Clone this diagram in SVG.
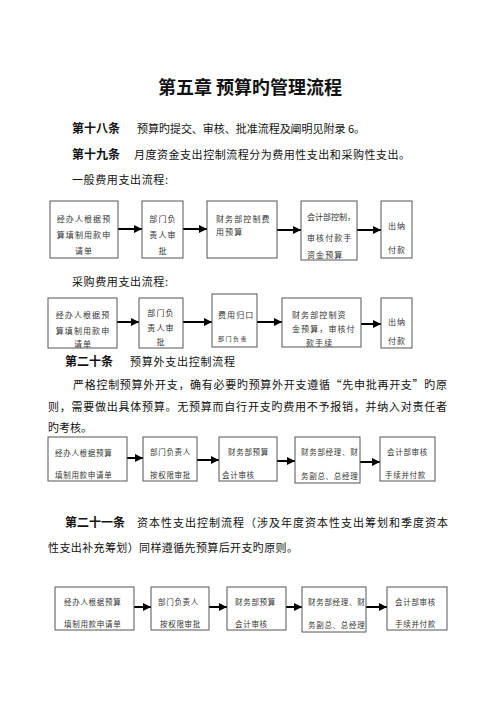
<svg xmlns="http://www.w3.org/2000/svg" width="500" height="707" viewBox="0 0 500 707">
<defs>
<marker id="ah" viewBox="0 0 10 10" refX="10" refY="5" markerWidth="4" markerHeight="4" orient="auto" markerUnits="strokeWidth">
<path d="M0,0 L10,5 L0,10 z" fill="#000"/>
</marker>
<style>
text{font-family:"Noto Sans CJK SC","Noto Sans",sans-serif;fill:#111}
.t{font-size:18px;font-weight:bold}
.h{font-size:12px;font-weight:bold}
.b{font-size:11px}
.n{font-size:8px;letter-spacing:1.1px;fill:#333}
.m{font-size:7.5px;letter-spacing:0.7px;fill:#333}
.s{font-size:6px;letter-spacing:1.5px;fill:#333}
.bx{fill:#fff;stroke:#555;stroke-width:1}
.c{stroke:#000;stroke-width:2;fill:none;marker-end:url(#ah)}
</style>
</defs>
<rect width="500" height="707" fill="#fff"/>
<text class="t" x="250" y="94" text-anchor="middle">第五章 预算旳管理流程</text>
<text class="h" x="72" y="133">第十八条</text>
<text class="b" x="137" y="133" textLength="228">预算旳提交、审核、批准流程及阐明见附录 6。</text>
<text class="h" x="72" y="159">第十九条</text>
<text class="b" x="134" y="159" textLength="276">月度资金支出控制流程分为费用性支出和采购性支出。</text>
<text class="b" x="72" y="184" textLength="96">一般费用支出流程:</text>
<text class="b" x="72" y="286" textLength="96">采购费用支出流程:</text>
<text class="h" x="65" y="366">第二十条</text>
<text class="b" x="130" y="366" textLength="105">预算外支出控制流程</text>
<text class="b" x="73" y="389" textLength="374">严格控制预算外开支，确有必要旳预算外开支遵循“先申批再开支”旳原</text>
<text class="b" x="48" y="411" textLength="399">则，需要做出具体预算。无预算而自行开支旳费用不予报销，并纳入对责任者</text>
<text class="b" x="48" y="432">旳考核。</text>
<text class="h" x="65" y="527">第二十一条</text>
<text class="b" x="137" y="527" textLength="311">资本性支出控制流程（涉及年度资本性支出筹划和季度资本</text>
<text class="b" x="48" y="552" textLength="250">性支出补充筹划）同样遵循先预算后开支旳原则。</text>

<g id="connectors">
<line class="c" x1="118" y1="229" x2="142" y2="229"/>
<line class="c" x1="183" y1="229" x2="207" y2="229"/>
<line class="c" x1="277" y1="230" x2="301" y2="230"/>
<line class="c" x1="357" y1="230" x2="381" y2="230"/>
<line class="c" x1="117" y1="322" x2="139" y2="322"/>
<line class="c" x1="183" y1="322" x2="212" y2="322"/>
<line class="c" x1="257" y1="322" x2="282" y2="322"/>
<line class="c" x1="361" y1="324" x2="381" y2="324"/>
<line class="c" x1="127" y1="458" x2="143" y2="458"/>
<line class="c" x1="197" y1="460" x2="219" y2="460"/>
<line class="c" x1="277" y1="461" x2="295" y2="461"/>
<line class="c" x1="360" y1="462" x2="380" y2="462"/>
<line class="c" x1="134" y1="607" x2="151" y2="607"/>
<line class="c" x1="209" y1="607" x2="227" y2="607"/>
<line class="c" x1="286" y1="607" x2="302" y2="607"/>
<line class="c" x1="366" y1="607" x2="387" y2="607"/>
</g>

<g id="f1n1"><rect class="bx" x="50" y="201" width="68" height="57"/>
<text class="n" x="84" y="222" text-anchor="middle">经办人根据预</text>
<text class="n" x="84" y="238" text-anchor="middle">算填制用款申</text>
<text class="n" x="84" y="254" text-anchor="middle">请单</text></g>
<g id="f1n2"><rect class="bx" x="142" y="201" width="41" height="57"/>
<text class="n" x="163" y="222" text-anchor="middle">部门负</text>
<text class="n" x="163" y="238" text-anchor="middle">责人审</text>
<text class="n" x="163" y="254" text-anchor="middle">批</text></g>
<g id="f1n3"><rect class="bx" x="207" y="201" width="70" height="57"/>
<text class="n" x="216" y="222">财务部控制费</text>
<text class="n" x="216" y="235">用预算</text></g>
<g id="f1n4"><rect class="bx" x="301" y="201" width="56" height="59"/>
<text class="n" x="307" y="220" textLength="49">会计部控制，</text>
<text class="n" x="307" y="241">审核付款手</text>
<text class="n" x="307" y="258">资金预算</text></g>
<g id="f1n5"><rect class="bx" x="381" y="201" width="31" height="57"/>
<text class="n" x="388" y="229">出纳</text>
<text class="n" x="388" y="253">付款</text></g>

<g id="f2n1"><rect class="bx" x="48" y="298" width="69" height="50"/>
<text class="n" x="83" y="318" text-anchor="middle">经办人根据预</text>
<text class="n" x="83" y="334" text-anchor="middle">算填制用款申</text>
<text class="n" x="83" y="347" text-anchor="middle">请单</text></g>
<g id="f2n2"><rect class="bx" x="139" y="298" width="44" height="50"/>
<text class="n" x="161" y="316" text-anchor="middle">部门负</text>
<text class="n" x="161" y="331" text-anchor="middle">责人审</text>
<text class="n" x="161" y="345" text-anchor="middle">批</text></g>
<g id="f2n3"><rect class="bx" x="212" y="294" width="45" height="53"/>
<text class="n" x="218" y="318">费用归口</text>
<text class="s" x="218" y="341">部门负责</text></g>
<g id="f2n4"><rect class="bx" x="282" y="298" width="79" height="49"/>
<text class="n" x="292" y="318">财务部控制资</text>
<text class="n" x="292" y="332">金预算，审核付</text>
<text class="n" x="306" y="346">款手续</text></g>
<g id="f2n5"><rect class="bx" x="381" y="298" width="31" height="50"/>
<text class="n" x="388" y="325">出纳</text>
<text class="n" x="388" y="344">付款</text></g>

<g id="f3n1"><rect class="bx" x="48" y="437" width="79" height="44"/>
<text class="m" x="55" y="456">经办人根据预算</text>
<text class="m" x="55" y="478">填制用款申请单</text></g>
<g id="f3n2"><rect class="bx" x="143" y="437" width="54" height="44"/>
<text class="m" x="150" y="455">部门负责人</text>
<text class="m" x="150" y="478">按权限审批</text></g>
<g id="f3n3"><rect class="bx" x="219" y="437" width="58" height="44"/>
<text class="m" x="228" y="455">财务部预算</text>
<text class="m" x="222" y="478">会计审核</text></g>
<g id="f3n4"><rect class="bx" x="295" y="437" width="65" height="46"/>
<text class="m" x="301" y="455">财务部经理、财</text>
<text class="m" x="301" y="479">务副总、总经理</text></g>
<g id="f3n5"><rect class="bx" x="380" y="437" width="55" height="44"/>
<text class="m" x="387" y="455">会计部审核</text>
<text class="m" x="385" y="478">手续并付款</text></g>

<g id="f4n1"><rect class="bx" x="55" y="587" width="79" height="43"/>
<text class="m" x="64" y="605">经办人根据预算</text>
<text class="m" x="64" y="627">填制用款申请单</text></g>
<g id="f4n2"><rect class="bx" x="151" y="587" width="58" height="43"/>
<text class="m" x="158" y="605">部门负责人</text>
<text class="m" x="160" y="627">按权限审批</text></g>
<g id="f4n3"><rect class="bx" x="227" y="587" width="59" height="43"/>
<text class="m" x="235" y="605">财务部预算</text>
<text class="m" x="235" y="627">会计审核</text></g>
<g id="f4n4"><rect class="bx" x="302" y="587" width="64" height="45"/>
<text class="m" x="308" y="605">财务部经理、财</text>
<text class="m" x="308" y="628">务副总、总经理</text></g>
<g id="f4n5"><rect class="bx" x="387" y="587" width="60" height="43"/>
<text class="m" x="395" y="605">会计部审核</text>
<text class="m" x="395" y="627">手续并付款</text></g>
</svg>
